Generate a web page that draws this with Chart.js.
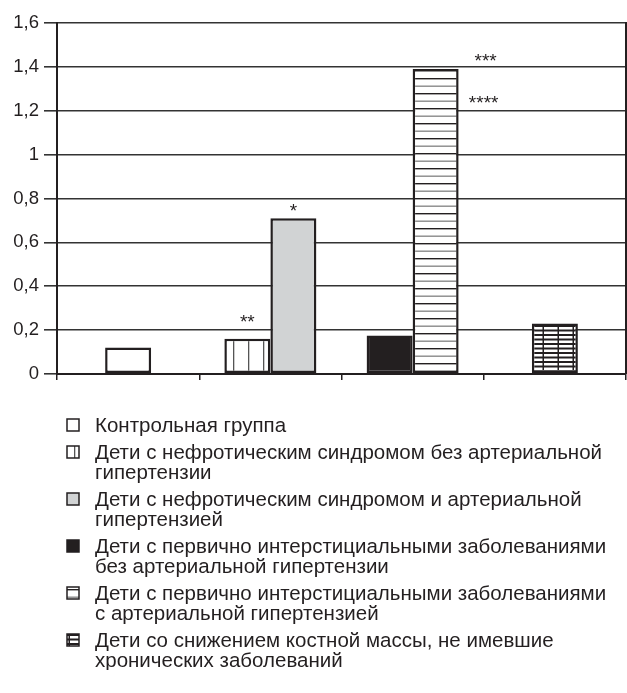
<!DOCTYPE html>
<html>
<head>
<meta charset="utf-8">
<script src="https://cdn.jsdelivr.net/npm/chart.js@4.4.1/dist/chart.umd.min.js"></script>
<style>
    body { margin: 0; background: #fff; font-family: "Liberation Sans", Arial, sans-serif; }
    #wrap { position: relative; width: 627px; height: 390px; }
    #legend { margin: 25px 5px 0 66px; padding: 0; list-style: none; color: #231f20; font-size: 20.5px; line-height: 20px; }
    #legend li { display: flex; align-items: flex-start; margin-bottom: 7px; }
    #legend canvas { flex: none; margin: 3px 15px 0 0; }
</style>
</head>
<body>
<div id="wrap"><canvas id="Chart"></canvas></div>
<ul id="legend"></ul>
<script>
    // data
    var categories = ['Контроль', 'Нефротический синдром', 'Интерстициальные заболевания', 'Снижение костной массы'];
    var seriesNames = [
        'Контрольная группа',
        'Дети с нефротическим синдромом без артериальной гипертензии',
        'Дети с нефротическим синдромом и артериальной гипертензией',
        'Дети с первично интерстициальными заболеваниями без артериальной гипертензии',
        'Дети с первично интерстициальными заболеваниями с артериальной гипертензией',
        'Дети со снижением костной массы, не имевшие хронических заболеваний'
    ];
    var control = [0.12, null, null, null];
    var nephNoHyp = [null, 0.16, null, null];
    var nephHyp = [null, 0.71, null, null];
    var interNoHyp = [null, null, 0.175, null];
    var interHyp = [null, null, 1.39, null];
    var boneLoss = [null, null, null, 0.23];
    var yTickLabels = ['0', '0,2', '0,4', '0,6', '0,8', '1', '1,2', '1,4', '1,6'];
    var notes = [
        { series: 1, text: '**' },
        { series: 2, text: '*' },
        { series: 4, text: '***' },
        { series: 4, text: '****' }
    ];

    function makePattern(w, h, draw) {
        var c = document.createElement('canvas');
        c.width = w;
        c.height = h;
        var g = c.getContext('2d');
        g.fillStyle = '#fff';
        g.fillRect(0, 0, w, h);
        draw(g);
        return g.createPattern(c, 'repeat');
    }

    var vStripes = makePattern(15, 2, function (g) {
        g.fillStyle = '#555';
        g.fillRect(8, 0, 1.3, 2);
    });
    var hStripes = makePattern(4, 15, function (g) {
        g.fillStyle = '#231f20';
        g.fillRect(0, 3, 4, 1.4);
        g.fillStyle = '#8a8a8a';
        g.fillRect(0, 10.5, 4, 1.4);
    });
    var gridFill = makePattern(15, 9, function (g) {
        g.fillStyle = '#231f20';
        g.fillRect(0, 1, 15, 2);
        g.fillRect(0, 5.5, 15, 2);
        g.fillRect(2.5, 0, 1.5, 9);
    });

    var fills = ['#ffffff', vStripes, '#d1d3d4', '#231f20', hStripes, gridFill];
    var values = [control, nephNoHyp, nephHyp, interNoHyp, interHyp, boneLoss];

    var notesPlugin = {
        id: 'notes',
        afterDatasetsDraw: function (chart) {
            // where each star label sits relative to its bar: [dx, dy]
            var offsets = [[0, -16], [0, -6], [50, -7], [48, 35]];
            var ctx = chart.ctx;
            ctx.save();
            ctx.fillStyle = '#231f20';
            ctx.font = '19px "Liberation Sans", Arial, sans-serif';
            ctx.textAlign = 'center';
            ctx.textBaseline = 'middle';
            notes.forEach(function (n, i) {
                var meta = chart.getDatasetMeta(n.series);
                var idx = values[n.series].findIndex(function (v) { return v !== null; });
                var bar = meta.data[idx];
                ctx.fillText(n.text, bar.x + offsets[i][0], bar.y + offsets[i][1]);
            });
            ctx.restore();
        }
    };

    initChart();

    function initChart() {
        var datasets = values.map(function (data, i) {
            return {
                label: seriesNames[i],
                data: data,
                backgroundColor: fills[i],
                borderColor: '#231f20',
                borderWidth: 2.5,
                borderSkipped: false,
                skipNull: true,
                barPercentage: 1,
                categoryPercentage: 0.647,
                maxBarThickness: 46
            };
        });

        var ctx = document.getElementById('Chart').getContext('2d');

        var chart = new Chart(ctx, {
            type: 'bar',
            data: { labels: categories, datasets: datasets },
            options: {
                responsive: true,
                maintainAspectRatio: false,
                animation: false,
                layout: { padding: { top: 23, right: 1, bottom: 6, left: 0 } },
                plugins: { legend: { display: false }, tooltip: { enabled: false } },
                scales: {
                    x: {
                        offset: true,
                        grid: { offset: true, drawOnChartArea: false, tickLength: 6, color: '#231f20', lineWidth: 1.5 },
                        ticks: { display: false },
                        border: { color: '#231f20', width: 2 }
                    },
                    y: {
                        min: 0,
                        max: 1.6,
                        afterFit: function (s) { s.width = 57; },
                        ticks: {
                            stepSize: 0.2,
                            padding: 5,
                            color: '#231f20',
                            font: { family: '"Liberation Sans", Arial, sans-serif', size: 18.5 },
                            callback: function (value, index) { return yTickLabels[index]; }
                        },
                        grid: { color: '#333', lineWidth: 1.6, tickLength: 13 },
                        border: { color: '#231f20', width: 2 }
                    },
                    y2: {
                        position: 'right',
                        afterFit: function (s) { s.width = 0; },
                        grid: { display: false },
                        ticks: { display: false },
                        border: { color: '#231f20', width: 2 }
                    }
                }
            },
            plugins: [notesPlugin]
        });

        buildLegend(chart);
    }

    function buildLegend(chart) {
        var ul = document.getElementById('legend');
        chart.data.datasets.forEach(function (ds) {
            var li = document.createElement('li');
            var icon = document.createElement('canvas');
            icon.width = 14;
            icon.height = 14;
            var g = icon.getContext('2d');
            g.fillStyle = ds.backgroundColor;
            g.fillRect(1, 1, 12, 12);
            g.strokeStyle = '#231f20';
            g.lineWidth = 1.5;
            g.strokeRect(1, 1, 12, 12);
            var span = document.createElement('span');
            span.textContent = ds.label;
            li.appendChild(icon);
            li.appendChild(span);
            ul.appendChild(li);
        });
        ul.lastChild.style.marginBottom = '0';
    }
</script>
</body>
</html>
